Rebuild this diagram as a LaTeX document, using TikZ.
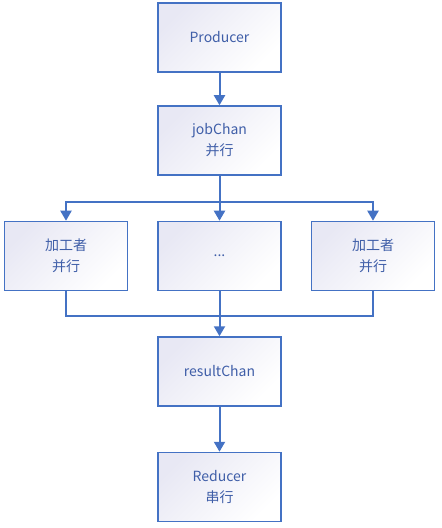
\documentclass[tikz,border=0pt]{standalone}
\usepackage{fontspec}
\setmainfont{Noto Sans CJK SC}
\usetikzlibrary{arrows.meta,positioning}
\definecolor{edge}{RGB}{68,114,196}
\definecolor{txt}{RGB}{63,94,168}
\definecolor{lav}{RGB}{232,232,244}

\begin{document}
\begin{tikzpicture}[x=1bp,y=-1bp,
     box/.style={draw=edge,line width=1.5bp,top color=lav,bottom color=white,shading angle=45,
                 minimum width=123bp,minimum height=69bp,inner sep=0pt,align=center,
                 text=txt,font=\fontsize{14bp}{21bp}\selectfont},
     arr/.style={draw=edge,line width=2bp,-{Triangle[width=11bp,length=10bp]}},
     wire/.style={draw=edge,line width=2bp}
     ]
\useasboundingbox (0,0) rectangle (442,528);

%Column centre and row heights
\def \cx{219.5}
\def \ysplit{202}
\def \yjoin{316}

%Boxes of the main column
\node[box] (prod) at (\cx,37.5) {Producer};
\node[box] (job) at (\cx,140.5) {jobChan\\并行};
\node[box] (res) at (\cx,371.5) {resultChan};
\node[box] (red) at (\cx,487) {Reducer\\串行};

%Row of workers
\foreach [count=\i] \x/\t in {66/{加工者\\并行},\cx/{...},373/{加工者\\并行}}
   {
\node[box] (w\i) at (\x,256) {\t};
   }

\coordinate (split) at (\cx,\ysplit);
\coordinate (join) at (\cx,\yjoin);

%Connectors
\draw[arr] (prod) -- (job);
\draw[wire] (job) -- (split);
\draw[arr] (split) -| (w1.north);
\draw[arr] (split) -| (w3.north);
\draw[arr] (split) -- (w2.north);
\draw[wire] (w1.south) |- (join);
\draw[wire] (w3.south) |- (join);
\draw[arr] (w2) -- (res);
\draw[arr] (res) -- (red);
\end{tikzpicture}
\end{document}
